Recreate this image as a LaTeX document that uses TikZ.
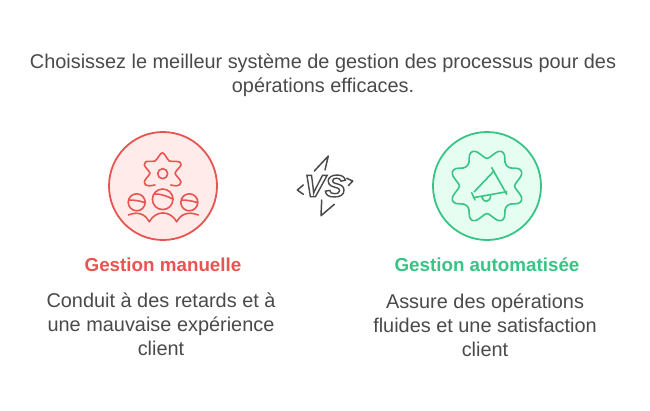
\documentclass[tikz,border=0pt]{standalone}
\usepackage{fontspec}
\setmainfont{Liberation Sans}
\newfontfamily\vsfont[Scale=1]{Liberation Sans}
\usetikzlibrary{positioning}
\definecolor{inkgrey}{HTML}{4A4A4A}
\definecolor{redline}{HTML}{E85450}
\definecolor{redfill}{HTML}{FFEBEA}
\definecolor{greenline}{HTML}{38C484}
\definecolor{greenfill}{HTML}{E6FDF2}
\tikzset{
	disc/.style={circle, draw=#1line, fill=#1fill, line width=1.8pt, minimum size=108pt, inner sep=0pt},
	icon/.style={draw=#1line, line width=1.6pt, line cap=round, line join=round},
	title/.style={font=\fontsize{18.8}{24}\selectfont\bfseries, text=#1line, inner sep=0pt},
	body/.style={font=\fontsize{19.9}{24}\selectfont, text=inkgrey, align=center, inner sep=0pt},
	spark/.style={draw=inkgrey, line width=1.5pt, line cap=round, line join=round}
}
\begin{document}
\begin{tikzpicture}[x=1pt, y=-1pt]
	\useasboundingbox [fill=white] (0,0) rectangle (650,410);
	\node (question) [body] at (323,75) {Choisissez le meilleur système de gestion des processus pour des\\opérations efficaces.};
	\node (manual) [disc=red] at (163,186) {};
	\node (auto) [disc=green] at (487,186) {};
	\node (manualtitle) [title=red, below=17pt of manual] {Gestion manuelle};
	\node (autotitle) [title=green, below=17pt of auto] {Gestion automatisée};
	\node (manualbody) [body, below=21pt of manualtitle, xshift=-2pt] {Conduit à des retards et à\\une mauvaise expérience\\client};
	\node (autobody) [body, below=21pt of autotitle, xshift=-2pt] {Assure des opérations\\fluides et une satisfaction\\client};
	\node (versus) at (325,186) {\vsfont\fontsize{31}{31}\selectfont\bfseries\itshape\special{pdf:literal 2 Tr 1.4 w 0.29 0.29 0.29 RG 1 1 1 rg}VS\special{pdf:literal 0 Tr}};
	\draw [icon=red] plot [smooth, tension=0.6] coordinates {(155,185) (149,185.8) (145.5,185) (144.3,182) (146.5,178) (150,173.3) (147,169) (144.3,165) (145.5,162) (149,161.3) (155,161) (159,156) (162.3,152.7) (165.7,156) (169.3,161) (176,161.3) (179.5,162) (181,165) (178,169) (175,173.3) (178.5,178) (181,182) (179.5,185) (176,185.8) (170.7,185)};
	\draw [icon=red] (162.7,173.7) circle (5);
	\draw [icon=red] (162.7,199.3) circle (10.3);
	\draw [icon=red] (136.7,202.3) circle (8.5);
	\draw [icon=red] (189.3,202.3) circle (8.5);
	\draw [icon=red] (155,194) .. controls (163,194) and (168,197) .. (173,199);
	\draw [icon=red] (129,200) .. controls (135,200) and (140,201) .. (144.5,202.5);
	\draw [icon=red] (181.7,200) .. controls (187,200) and (192,201) .. (197.3,202.5);
	\draw [icon=red] (128.3,215) .. controls (138,211) and (145,214) .. (149.3,221.7);
	\draw [icon=red] (149.3,221.7) .. controls (156,210) and (170,210) .. (176.7,221.7);
	\draw [icon=red] (176.7,221.7) .. controls (181,214) and (188,211) .. (198.3,215);
	\draw [icon=green, shift={(487,186)}] plot [smooth cycle, tension=0.6] coordinates {(0,-27.5) (5,-30.5) (10,-34) (14.5,-34.5) (17.5,-31) (18,-24) (20,-20) (24,-18) (31,-17.5) (34.5,-14.5) (34,-10) (30.5,-5) (27.5,0) (30.5,5) (34,10) (34.5,14.5) (31,17.5) (24,18) (20,20) (18,24) (17.5,31) (14.5,34.5) (10,34) (5,30.5) (0,27.5) (-5,30.5) (-10,34) (-14.5,34.5) (-17.5,31) (-18,24) (-20,20) (-24,18) (-31,17.5) (-34.5,14.5) (-34,10) (-30.5,5) (-27.5,0) (-30.5,-5) (-34,-10) (-34.5,-14.5) (-31,-17.5) (-24,-18) (-20,-20) (-18,-24) (-17.5,-31) (-14.5,-34.5) (-10,-34) (-5,-30.5)};
	\draw [icon=green] (474.3,191.7) -- (494,171);
	\draw [icon=green] (491.7,167.7) -- (506.7,194.3);
	\draw [icon=green] (473.3,197.7) -- (506.7,191.7);
	\draw [icon=green] (471.7,192.7) -- (475,200);
	\draw [icon=green] (481.7,196.7) .. controls (483,203) and (490,203) .. (490.7,195.7);
	\draw [spark] (314.3,171) -- (328.3,156) -- (325,170);
	\draw [spark] (321.7,200) -- (321,215.7) -- (334.3,204.3);
	\draw [spark] (303.3,185) -- (297.3,190) -- (303.3,194.3);
	\draw [spark] (346.7,178.3) -- (352.7,181) -- (348.3,185.7);
\end{tikzpicture}
\end{document}
